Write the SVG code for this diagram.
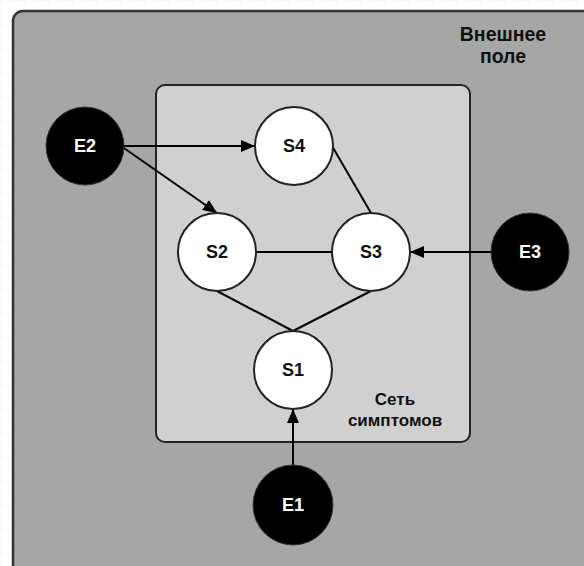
<svg xmlns="http://www.w3.org/2000/svg" width="584" height="566" viewBox="0 0 584 566">
  <defs>
    <pattern id="grid" width="12" height="12" patternUnits="userSpaceOnUse">
      <path d="M12 0H0V12" fill="none" stroke="#f0f0f0" stroke-width="1"/>
    </pattern>
    <marker id="arrow" viewBox="0 0 14 12" refX="14" refY="6" markerWidth="14" markerHeight="12" markerUnits="userSpaceOnUse" orient="auto">
      <path d="M0 0L14 6L0 12Z" fill="#000"/>
    </marker>
  </defs>
  <style>
    .frame { fill: #a6a6a6; stroke: #333; stroke-width: 2.5; }
    .net { fill: #d0d0d0; stroke: #222; stroke-width: 2; }
    .s { fill: #fff; stroke: #222; stroke-width: 2; }
    .e { fill: #000; stroke: #333; stroke-width: 1; }
    .edge { stroke: #000; stroke-width: 2; fill: none; }
    text { font-family: "Liberation Sans", Arial, sans-serif; font-weight: bold; text-anchor: middle; }
    .lbl { font-size: 18px; }
    .sl { fill: #111; }
    .el { fill: #fff; }
    .title { font-size: 19.5px; fill: #111; }
    .sub { font-size: 17px; fill: #111; }
  </style>

  <rect width="584" height="566" fill="#fff"/>
  <rect width="584" height="566" fill="url(#grid)"/>

  <!-- outer field -->
  <g id="external-field">
    <rect class="frame" x="13" y="11" width="600" height="580" rx="10"/>
    <text class="title" x="503" y="41">Внешнее</text>
    <text class="title" x="503" y="63">поле</text>
  </g>

  <!-- symptom network -->
  <g id="symptom-network">
    <rect class="net" x="156" y="85" width="314" height="357" rx="9"/>
    <text class="sub" x="395" y="405">Сеть</text>
    <text class="sub" x="395" y="426">симптомов</text>
  </g>

  <!-- connectors -->
  <g id="connectors">
    <line class="edge" x1="124" y1="146" x2="255" y2="146" marker-end="url(#arrow)"/>
    <line class="edge" x1="121" y1="146" x2="217" y2="213" marker-end="url(#arrow)"/>
    <line class="edge" x1="332" y1="146" x2="371" y2="213"/>
    <line class="edge" x1="256" y1="252" x2="332" y2="252"/>
    <line class="edge" x1="217" y1="291" x2="293" y2="331"/>
    <line class="edge" x1="371" y1="291" x2="293" y2="331"/>
    <line class="edge" x1="491" y1="252" x2="410" y2="252" marker-end="url(#arrow)"/>
    <line class="edge" x1="293" y1="466" x2="293" y2="409" marker-end="url(#arrow)"/>
  </g>

  <g id="S4"><circle class="s" cx="294" cy="146" r="39"/><text class="lbl sl" x="294" y="152">S4</text></g>
  <g id="S2"><circle class="s" cx="217" cy="252" r="39"/><text class="lbl sl" x="217" y="258">S2</text></g>
  <g id="S3"><circle class="s" cx="371" cy="252" r="39"/><text class="lbl sl" x="371" y="258">S3</text></g>
  <g id="S1"><circle class="s" cx="293" cy="370" r="39"/><text class="lbl sl" x="293" y="376">S1</text></g>

  <g id="E2"><circle class="e" cx="85" cy="146" r="39"/><text class="lbl el" x="85" y="152">E2</text></g>
  <g id="E3"><circle class="e" cx="530" cy="252" r="39"/><text class="lbl el" x="530" y="258">E3</text></g>
  <g id="E1"><circle class="e" cx="293" cy="505" r="40"/><text class="lbl el" x="293" y="511">E1</text></g>
</svg>
